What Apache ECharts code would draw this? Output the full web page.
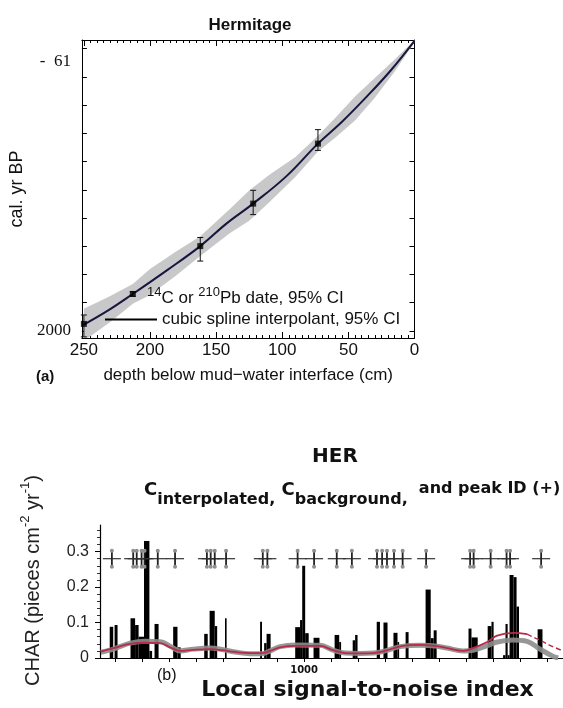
<!DOCTYPE html>
<html><head><meta charset="utf-8">
<script src="https://cdn.jsdelivr.net/npm/echarts@6/dist/echarts.min.js"></script>
<style>html,body{margin:0;padding:0;background:#fff}#c{width:563px;height:708px}</style>
</head><body><div id="c"></div>
<script>
// ---------- Panel (a): Hermitage age-depth model ----------
const dateDepth   = [250, 213, 162, 122, 73];
const dateAge     = [1950, 1738, 1399, 1098, 673];
const dateAgeLow  = [1887, 1722, 1338, 1004, 574];
const dateAgeHigh = [2042, 1754, 1505, 1176, 721];

const splineDepth = [0, 18, 36.5, 55, 73, 97, 122, 142, 162, 187, 213, 231, 250];
const splineAge   = [-55, 155, 344, 520, 673, 905, 1098, 1238, 1399, 1569, 1738, 1851, 1955];

const bandDepth = [0, 15, 30, 45, 60, 73, 90, 110, 125, 140, 162, 180, 200, 213, 230, 250];
const bandLow   = [-61, 78, 208, 340, 492, 617, 767, 895, 1005, 1140, 1329, 1436, 1561, 1668, 1753, 1842];
const bandHigh  = [-45, 162, 348, 510, 632, 729, 907, 1090, 1220, 1310, 1469, 1606, 1745, 1808, 1937, 2070];

const depthTicks = [0, 50, 100, 150, 200, 250];
const depthMinorTicks = [0,5,10,15,20,25,30,35,40,45,50,55,60,65,70,75,80,85,90,95,100,105,110,115,120,125,130,135,140,145,150,155,160,165,170,175,180,185,190,195,200,205,210,215,220,225,230,235,240,245,250];
const ageTicks = [0, 200, 400, 600, 800, 1000, 1200, 1400, 1600, 1800, 2000];
const ageLabels = [-61, 2000];

const nameDates  = '14C or 210Pb date, 95% CI';
const nameSpline = 'cubic spline interpolant, 95% CI';

// ---------- Panel (b): HER charcoal record ----------
const barStart   = [280, 298, 357, 374, 387, 407, 427, 446, 515, 531, 630, 650, 669, 707, 837, 852, 861, 967, 985, 993, 1004, 1035, 1113, 1130, 1180, 1189, 1269, 1294, 1331, 1346, 1376, 1450, 1469, 1480, 1609, 1620, 1680, 1694, 1737, 1746, 1754, 1761, 1776, 1787, 1865];
const barEnd     = [293, 309, 374, 387, 407, 427, 437, 461, 531, 543, 643, 669, 678, 713, 844, 861, 876, 985, 993, 1004, 1017, 1057, 1130, 1137, 1189, 1198, 1281, 1309, 1346, 1352, 1387, 1469, 1480, 1491, 1620, 1643, 1694, 1702, 1746, 1754, 1761, 1776, 1787, 1796, 1883];
const charValues = [0.088, 0.093, 0.112, 0.093, 0.06, 0.33, 0.02, 0.096, 0.088, 0.03, 0.068, 0.133, 0.09, 0.112, 0.102, 0.042, 0.068, 0.087, 0.107, 0.26, 0.07, 0.057, 0.065, 0.045, 0.05, 0.065, 0.102, 0.1, 0.071, 0.045, 0.073, 0.193, 0.056, 0.078, 0.083, 0.058, 0.09, 0.102, 0.008, 0.096, 0.008, 0.234, 0.228, 0.145, 0.081];

const redYears  = [247, 281, 318, 356, 411, 467, 504, 541, 589, 652, 696, 744, 800, 844, 874, 911, 967, 1059, 1107, 1152, 1207, 1256, 1300, 1356, 1430, 1485, 1530, 1589, 1626, 1678, 1715, 1774, 1826];
const redValues = [0.018, 0.025, 0.033, 0.040, 0.043, 0.042, 0.030, 0.020, 0.023, 0.025, 0.022, 0.017, 0.014, 0.014, 0.020, 0.030, 0.034, 0.034, 0.022, 0.014, 0.013, 0.014, 0.020, 0.033, 0.037, 0.034, 0.028, 0.020, 0.028, 0.045, 0.063, 0.071, 0.067];
const redDashYears  = [1826, 1874, 1919, 1959];
const redDashValues = [0.067, 0.050, 0.033, 0.020];
const greyYears  = [247, 281, 318, 356, 411, 467, 504, 541, 589, 652, 696, 744, 800, 844, 874, 911, 967, 1059, 1107, 1152, 1207, 1256, 1300, 1356, 1430, 1485, 1530, 1589, 1626, 1678, 1715, 1774, 1826, 1874, 1919, 1941];
const greyValues = [0.016, 0.022, 0.032, 0.042, 0.047, 0.046, 0.033, 0.020, 0.025, 0.028, 0.024, 0.017, 0.012, 0.012, 0.020, 0.032, 0.037, 0.036, 0.022, 0.014, 0.013, 0.014, 0.020, 0.032, 0.036, 0.034, 0.028, 0.020, 0.022, 0.035, 0.045, 0.051, 0.047, 0.025, 0.006, 0.0];

const peakYears = [288, 367, 380, 398, 409, 458, 522, 640, 654, 669, 711, 847, 864, 976, 1037, 1121, 1177, 1270, 1289, 1307, 1333, 1365, 1452, 1615, 1628, 1691, 1750, 1763, 1878];
const peakLevel = 0.28;

const yearTicks  = [300, 400, 500, 600, 700, 800, 900, 1000, 1100, 1200, 1300, 1400, 1500, 1600, 1700, 1800, 1900];
const yearLabels = [1000];
const charTicks  = [0, 0.1, 0.2, 0.3];

// ---------- renderers ----------
function renderBand(params, api) {
  const pts = [];
  for (let i = 0; i < bandDepth.length; i++) pts.push(api.coord([bandDepth[i], bandLow[i]]));
  for (let i = bandDepth.length - 1; i >= 0; i--) pts.push(api.coord([bandDepth[i], bandHigh[i]]));
  return { type: 'polygon', shape: { points: pts }, style: { fill: '#c8c8ca' } };
}
function renderErr(params, api) {
  const x = api.value(0);
  const lo = api.coord([x, api.value(1)]);
  const hi = api.coord([x, api.value(2)]);
  const w = 3, st = { stroke: '#111', lineWidth: 1 };
  return { type: 'group', children: [
    { type: 'line', shape: { x1: lo[0], y1: lo[1], x2: hi[0], y2: hi[1] }, style: st },
    { type: 'line', shape: { x1: lo[0] - w, y1: lo[1], x2: lo[0] + w, y2: lo[1] }, style: st },
    { type: 'line', shape: { x1: hi[0] - w, y1: hi[1], x2: hi[0] + w, y2: hi[1] }, style: st }
  ]};
}
function renderBar(params, api) {
  const p0 = api.coord([api.value(0), api.value(2)]);
  const p1 = api.coord([api.value(1), 0]);
  return { type: 'rect', shape: { x: p0[0], y: p0[1], width: Math.max(1, p1[0] - p0[0]), height: p1[1] - p0[1] }, style: { fill: '#000' } };
}
function renderPeak(params, api) {
  const c = api.coord([api.value(0), api.value(1)]);
  return { type: 'group', children: [
    { type: 'line', shape: { x1: c[0] - 9, y1: c[1], x2: c[0] + 9, y2: c[1] }, style: { stroke: '#333', lineWidth: 1.2 } },
    { type: 'line', shape: { x1: c[0], y1: c[1] - 8, x2: c[0], y2: c[1] + 8 }, style: { stroke: '#222', lineWidth: 1.8 } },
    { type: 'circle', shape: { cx: c[0], cy: c[1] - 8, r: 2 }, style: { fill: '#8e8e8e' } },
    { type: 'circle', shape: { cx: c[0], cy: c[1] + 8, r: 2 }, style: { fill: '#8e8e8e' } }
  ]};
}

const sans = 'Liberation Sans, Arial, sans-serif';
const serif = 'Liberation Serif, Times New Roman, serif';
const dv = 'DejaVu Sans, sans-serif';
const black = '#111';

const chart = echarts.init(document.getElementById('c'), null, { renderer: 'canvas' });
chart.setOption({
  animation: false,
  backgroundColor: '#fff',
  title: [
    { text: 'Hermitage', left: 245, top: 12, textAlign: 'center',
      textStyle: { fontFamily: sans, fontWeight: 'bold', fontSize: 17, color: black } },
    { text: 'HER', left: 330, top: 442, textAlign: 'center',
      textStyle: { fontFamily: dv, fontWeight: 'bold', fontSize: 20, color: black } },
    { text: '{c|C}{s|interpolated,}{c| C}{s|background,}{m|  and peak ID (+)}', left: 139, top: 476,
      textStyle: { rich: {
        c: { fontFamily: dv, fontWeight: 'bold', fontSize: 18, color: black, verticalAlign: 'top', lineHeight: 20 },
        s: { fontFamily: dv, fontWeight: 'bold', fontSize: 16, color: black, verticalAlign: 'bottom', lineHeight: 20, padding: [0, 0, -7, 0] },
        m: { fontFamily: dv, fontWeight: 'bold', fontSize: 16, color: black, verticalAlign: 'top', lineHeight: 20 }
      } } }
  ],
  legend: [
    { data: [{ name: nameDates, itemStyle: { opacity: 0 } }], left: 122, top: 286, itemWidth: 20, itemHeight: 6,
      selectedMode: false, padding: 0,
      formatter: () => '{sup|14}{n|C or }{sup|210}{n|Pb date, 95% CI}',
      textStyle: { rich: {
        n: { fontFamily: sans, fontSize: 17, color: black, verticalAlign: 'bottom', lineHeight: 21 },
        sup: { fontFamily: sans, fontSize: 13, color: black, verticalAlign: 'top', lineHeight: 21 }
      } } },
    { data: [{ name: nameSpline, icon: 'rect', itemStyle: { color: '#000' } }], left: 105, top: 311, itemWidth: 52, itemHeight: 2,
      selectedMode: false, padding: 0,
      textStyle: { fontFamily: sans, fontSize: 17, color: black } }
  ],
  grid: [
    { left: 80, top: 40, width: 334.5, height: 298 },
    { left: 100, top: 525, right: 0, height: 133 }
  ],
  xAxis: [
    { type: 'value', gridIndex: 0, position: 'bottom', inverse: true, min: 0, max: 251.5,
      axisLine: { show: true, onZero: false, lineStyle: { color: '#000', width: 1 } },
      axisTick: { show: true, inside: true, length: 6, customValues: depthTicks, lineStyle: { color: '#000' } },
      axisLabel: { customValues: depthTicks, fontFamily: sans, fontSize: 17, color: black, margin: 4 },
      splitLine: { show: false },
      name: 'depth below mud\u2212water interface (cm)', nameLocation: 'middle', nameGap: 29,
      nameTextStyle: { fontFamily: sans, fontSize: 17, color: black } },
    { type: 'value', gridIndex: 0, position: 'bottom', inverse: true, min: 0, max: 251.5,
      axisLine: { show: false, onZero: false },
      axisTick: { show: true, inside: true, length: 3, customValues: depthMinorTicks, lineStyle: { color: '#000' } },
      axisLabel: { show: false }, splitLine: { show: false } },
    { type: 'value', gridIndex: 0, position: 'top', inverse: true, min: 0, max: 251.5,
      axisLine: { show: true, onZero: false, lineStyle: { color: '#000', width: 1 } },
      axisTick: { show: true, inside: true, length: 6, customValues: depthTicks, lineStyle: { color: '#000' } },
      axisLabel: { show: false }, splitLine: { show: false } },
    { type: 'value', gridIndex: 0, position: 'top', inverse: true, min: 0, max: 251.5,
      axisLine: { show: false, onZero: false },
      axisTick: { show: true, inside: true, length: 3, customValues: depthMinorTicks, lineStyle: { color: '#000' } },
      axisLabel: { show: false }, splitLine: { show: false } },
    { type: 'value', gridIndex: 1, position: 'bottom', min: 244, max: 1959,
      axisLine: { show: true, onZero: false, lineStyle: { color: '#000', width: 1.2 } },
      axisTick: { show: true, inside: false, length: 4, customValues: yearTicks, lineStyle: { color: '#000' } },
      axisLabel: { customValues: yearLabels, formatter: v => String(v), fontFamily: dv, fontWeight: 'bold', fontSize: 10, color: black, margin: 7 },
      splitLine: { show: false },
      name: 'Local signal-to-noise index', nameLocation: 'middle', nameGap: 21,
      nameTextStyle: { fontFamily: dv, fontWeight: 'bold', fontSize: 22, color: black, padding: [0, 0, 0, 72] } }
  ],
  yAxis: [
    { type: 'value', gridIndex: 0, position: 'left', inverse: true, min: -61, max: 2050,
      axisLine: { show: true, onZero: false, lineStyle: { color: '#000', width: 1 } },
      axisTick: { show: true, inside: true, length: 5, customValues: ageTicks, lineStyle: { color: '#000' } },
      axisLabel: { customValues: ageLabels, margin: 11,
        formatter: v => v === -61 ? '{t|-  61}' : '{b|' + v + '}',
        rich: {
          t: { fontFamily: serif, fontSize: 17, color: black, padding: [44, 0, 0, 0] },
          b: { fontFamily: serif, fontSize: 17, color: black }
        } },
      splitLine: { show: false },
      name: 'cal. yr BP', nameLocation: 'middle', nameRotate: 90, nameGap: 52,
      nameTextStyle: { fontFamily: sans, fontSize: 18, color: black } },
    { type: 'value', gridIndex: 0, position: 'right', inverse: true, min: -61, max: 2050,
      axisLine: { show: true, onZero: false, lineStyle: { color: '#000', width: 1 } },
      axisTick: { show: true, inside: true, length: 5, customValues: ageTicks, lineStyle: { color: '#000' } },
      axisLabel: { show: false }, splitLine: { show: false } },
    { type: 'value', gridIndex: 1, position: 'left', min: 0, max: 0.375, interval: 0.1,
      axisLine: { show: true, onZero: false, lineStyle: { color: '#000', width: 1.2 } },
      axisTick: { show: true, inside: false, length: 5, customValues: charTicks, lineStyle: { color: '#000' } },
      minorTick: { show: true, splitNumber: 5, length: 3, lineStyle: { color: '#333' } },
      axisLabel: { customValues: charTicks, fontFamily: sans, fontSize: 16, color: '#222', margin: 11,
        formatter: v => v === 0 ? '0' : v.toFixed(1) },
      splitLine: { show: false },
      name: '{n|CHAR (pieces cm}{s|-2}{n| yr}{s|-1}{n|)}', nameLocation: 'middle', nameRotate: 90, nameGap: 57,
      nameTextStyle: { padding: [0, 0, 0, 22], rich: {
        n: { fontFamily: sans, fontSize: 20, color: '#222', verticalAlign: 'bottom', lineHeight: 24 },
        s: { fontFamily: sans, fontSize: 13, color: '#222', verticalAlign: 'top', lineHeight: 24 }
      } } }
  ],
  graphic: [
    { type: 'text', left: 36, top: 369, style: { text: '(a)', fontFamily: sans, fontWeight: 'bold', fontSize: 15, fill: black } },
    { type: 'text', left: 157, top: 668, style: { text: '(b)', fontFamily: sans, fontSize: 16, fill: black } }
  ],
  series: [
    { type: 'custom', name: 'band', xAxisIndex: 0, yAxisIndex: 0, clip: true, silent: true,
      renderItem: renderBand, data: [[bandDepth[0], bandLow[0]]], z: 1 },
    { type: 'line', name: nameSpline, xAxisIndex: 0, yAxisIndex: 0, smooth: 0.4, symbol: 'none',
      lineStyle: { color: '#16163f', width: 2 }, itemStyle: { color: '#000' },
      data: splineDepth.map((d, i) => [d, splineAge[i]]), z: 3 },
    { type: 'custom', name: 'errors', xAxisIndex: 0, yAxisIndex: 0, renderItem: renderErr,
      encode: { x: 0, y: [1, 2] }, data: dateDepth.map((d, i) => [d, dateAgeLow[i], dateAgeHigh[i]]), z: 4 },
    { type: 'scatter', name: nameDates, xAxisIndex: 0, yAxisIndex: 0, symbol: 'rect', symbolSize: 6,
      itemStyle: { color: '#000' }, data: dateDepth.map((d, i) => [d, dateAge[i]]), z: 5 },

    { type: 'custom', name: 'CHAR', xAxisIndex: 4, yAxisIndex: 2, renderItem: renderBar, clip: true,
      encode: { x: [0, 1], y: 2 }, data: barStart.map((s, i) => [s, barEnd[i], charValues[i]]), z: 2 },
    { type: 'line', name: 'Cbackground grey', xAxisIndex: 4, yAxisIndex: 2, smooth: 0.4, symbol: 'none',
      lineStyle: { color: '#8c8c8c', width: 5, opacity: 0.9 }, data: greyYears.map((y, i) => [y, greyValues[i]]), z: 3 },
    { type: 'line', name: 'Cbackground', xAxisIndex: 4, yAxisIndex: 2, smooth: 0.4, symbol: 'none',
      lineStyle: { color: '#b82a48', width: 1.8 }, data: redYears.map((y, i) => [y, redValues[i]]), z: 4 },
    { type: 'line', name: 'Cbackground end', xAxisIndex: 4, yAxisIndex: 2, smooth: 0.4, symbol: 'none',
      lineStyle: { color: '#b82a48', width: 1.4, type: [5, 3] }, data: redDashYears.map((y, i) => [y, redDashValues[i]]), z: 4 },
    { type: 'custom', name: 'peaks', xAxisIndex: 4, yAxisIndex: 2, renderItem: renderPeak,
      encode: { x: 0, y: 1 }, data: peakYears.map(y => [y, peakLevel]), z: 5 }
  ]
});
</script>
</body></html>
